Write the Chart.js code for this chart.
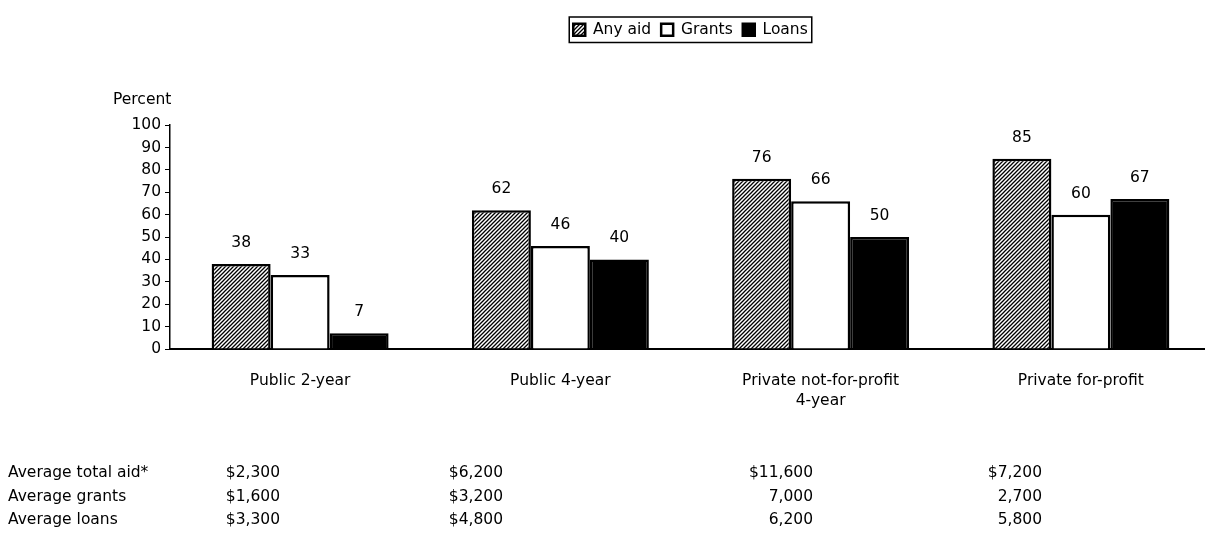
<!DOCTYPE html>
<html>
<head>
<meta charset="utf-8">
<script src="https://cdn.jsdelivr.net/npm/chart.js@4"></script>
<style>
html, body { margin: 0; padding: 0; background: #fff; overflow: hidden; }
#wrap { position: relative; width: 1215px; height: 547px; }
</style>
</head>
<body>
<div id="wrap"><canvas id="barCanvas"></canvas></div>
<script>
// ------DATA--------
const categories = ["Public 2-year", "Public 4-year", ["Private not-for-profit", "4-year"], "Private for-profit"];
const anyAid = [38, 62, 76, 85];
const grants = [33, 46, 66, 60];
const loans = [7, 40, 50, 67];

const tableRows = ["Average total aid*", "Average grants", "Average loans"];
const avgTotalAid = ["$2,300", "$6,200", "$11,600", "$7,200"];
const avgGrants = ["$1,600", "$3,200", "7,000", "2,700"];
const avgLoans = ["$3,300", "$4,800", "6,200", "5,800"];

// ------STYLE--------
const FONT_SIZE = 15.5;
const FONT = FONT_SIZE + "px 'DejaVu Sans'";
Chart.defaults.font.family = "'DejaVu Sans'";
Chart.defaults.font.size = FONT_SIZE;
Chart.defaults.color = "#000";

const barCanvas = document.getElementById("barCanvas");

// diagonal hatch for "Any aid"
function makeHatch() {
    const c = document.createElement("canvas");
    c.width = 4;
    c.height = 4;
    const h = c.getContext("2d");
    h.fillStyle = "#fff";
    h.fillRect(0, 0, 4, 4);
    h.strokeStyle = "#000";
    h.lineWidth = 1.3;
    h.beginPath();
    h.moveTo(-1, 5); h.lineTo(5, -1);
    h.moveTo(-1, 1); h.lineTo(1, -1);
    h.moveTo(3, 5); h.lineTo(5, 3);
    h.stroke();
    return barCanvas.getContext("2d").createPattern(c, "repeat");
}

// numbers above the bars
const valueLabels = {
    id: "valueLabels",
    afterDatasetsDraw(chart) {
        const ctx = chart.ctx;
        ctx.save();
        ctx.font = FONT;
        ctx.fillStyle = "#000";
        ctx.textAlign = "center";
        ctx.textBaseline = "middle";
        chart.data.datasets.forEach((ds, i) => {
            chart.getDatasetMeta(i).data.forEach((bar, j) => {
                ctx.fillText(ds.data[j], bar.x, bar.y - 21);
            });
        });
        ctx.restore();
    }
};

// legend frame + table of averages under the chart
const extras = {
    id: "extras",
    afterDraw(chart) {
        const ctx = chart.ctx;
        ctx.save();
        const hb = chart.legend.legendHitBoxes;
        const l = Math.min(...hb.map(b => b.left)) - 4;
        const r = Math.max(...hb.map(b => b.left + b.width)) + 4;
        const t = Math.min(...hb.map(b => b.top)) - 5;
        const btm = Math.max(...hb.map(b => b.top + b.height)) + 5;
        ctx.strokeStyle = "#000";
        ctx.lineWidth = 1.5;
        ctx.strokeRect(l, t, r - l, btm - t);

        ctx.font = FONT;
        ctx.fillStyle = "#000";
        ctx.textBaseline = "middle";
        const rowY = [473, 497, 520];
        const colRight = [280, 503, 813, 1042];
        const rows = [avgTotalAid, avgGrants, avgLoans];
        tableRows.forEach((name, i) => {
            ctx.textAlign = "left";
            ctx.fillText(name, 8, rowY[i]);
            ctx.textAlign = "right";
            rows[i].forEach((v, j) => ctx.fillText(v, colRight[j], rowY[i]));
        });
        ctx.restore();
    }
};

const barChart = new Chart(barCanvas, {
    type: "bar",
    data: {
        labels: categories,
        datasets: [
            { label: "Any aid", data: anyAid, backgroundColor: makeHatch(), borderColor: "#000", borderWidth: 2.5 },
            { label: "Grants", data: grants, backgroundColor: "#fff", borderColor: "#000", borderWidth: 2.5 },
            { label: "Loans", data: loans, backgroundColor: "#000", borderColor: "#000", borderWidth: 2.5 }
        ]
    },
    options: {
        responsive: true,
        maintainAspectRatio: false,
        animation: false,
        layout: { padding: { left: 113, right: 4, top: 12, bottom: 0 } },
        datasets: { bar: { categoryPercentage: 0.68, barPercentage: 1 } },
        plugins: {
            legend: {
                position: "top",
                fullSize: false,
                labels: { boxWidth: 12, boxHeight: 12, padding: 10, color: "#000" }
            },
            title: {
                display: true,
                text: "Percent",
                align: "start",
                position: "top",
                weight: 500,
                font: { size: FONT_SIZE, weight: "normal" },
                padding: { top: 43, bottom: 16 }
            },
            tooltip: { enabled: false }
        },
        scales: {
            x: {
                grid: { display: false, drawTicks: false },
                border: { display: true, color: "#000", width: 2 },
                ticks: { padding: 22, font: { lineHeight: 1.3 } },
                afterFit(s) { s.height = 198; }
            },
            y: {
                min: 0,
                max: 100,
                grid: { drawOnChartArea: false, drawTicks: true, tickLength: 5, color: "#000" },
                border: { display: true, color: "#000", width: 1.5 },
                ticks: { stepSize: 10, padding: 4 },
                afterFit(s) { s.width = 57; }
            }
        }
    },
    plugins: [valueLabels, extras]
});
</script>
</body>
</html>
